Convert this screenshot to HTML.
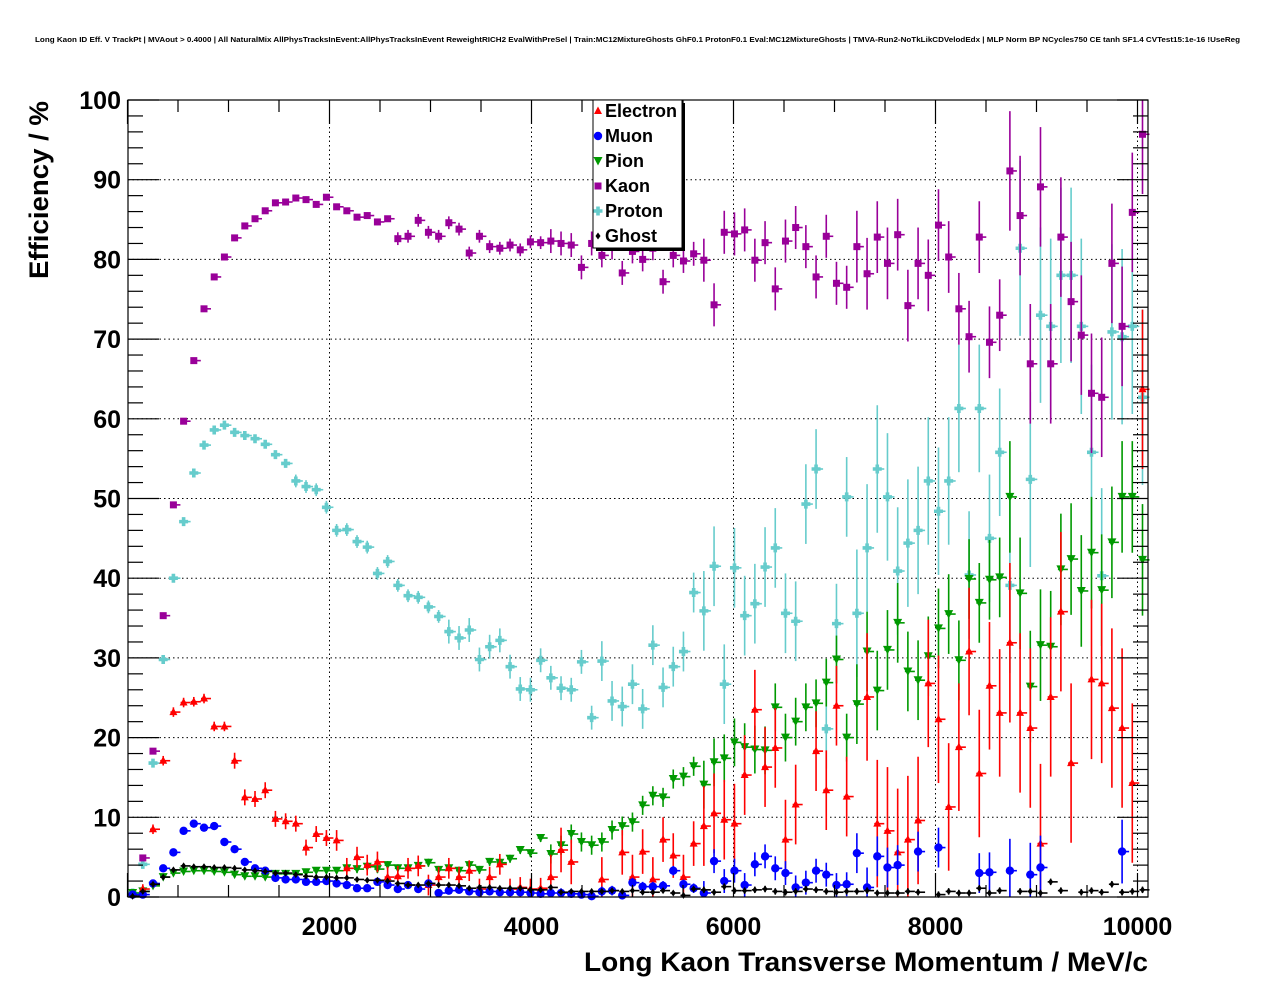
<!DOCTYPE html>
<html><head><meta charset="utf-8"><style>
html,body{margin:0;padding:0;background:#fff;}
svg{display:block;font-family:"Liberation Sans",Arial,sans-serif;}
</style></head><body>
<svg id="chart" width="1276" height="996" viewBox="0 0 1276 996" xmlns="http://www.w3.org/2000/svg">
<rect x="0" y="0" width="1276" height="996" fill="#fff"/>
<text x="35" y="42" font-size="7.5" font-weight="bold" textLength="1205" lengthAdjust="spacingAndGlyphs">Long Kaon ID Eff. V TrackPt | MVAout &gt; 0.4000 | All NaturalMix AllPhysTracksInEvent:AllPhysTracksInEvent ReweightRICH2 EvalWithPreSel | Train:MC12MixtureGhosts GhF0.1 ProtonF0.1 Eval:MC12MixtureGhosts | TMVA-Run2-NoTkLikCDVelodEdx | MLP Norm BP NCycles750 CE tanh SF1.4 CVTest15:1e-16 !UseReg</text>
<g id="grid"></g>
<g id="marks"></g>
<rect x="128" y="100" width="1020" height="797" fill="none" stroke="#000" stroke-width="1.2"/>
<g id="axes"></g>
<text x="1148" y="971" font-size="27" font-weight="bold" text-anchor="end" textLength="564" lengthAdjust="spacingAndGlyphs">Long Kaon Transverse Momentum / MeV/c</text>
<text transform="translate(48,279) rotate(-90)" font-size="27" font-weight="bold" textLength="178" lengthAdjust="spacingAndGlyphs">Efficiency / %</text>
<g id="legend"></g>
</svg>
<script>
const electron = [null,1.0,8.5,17.1,23.2,24.4,24.5,24.9,21.4,21.4,
17.1,12.5,12.3,13.4,9.8,9.5,9.2,6.2,7.9,7.4,
7.1,3.6,5.0,4.0,4.4,2.5,2.6,3.6,3.9,1.5,
2.5,3.6,2.5,3.3,1.0,2.5,4.1,1.0,1.2,1.0,
1.1,2.5,5.9,4.4,null,null,2.2,null,5.6,2.5,
5.7,2.2,7.2,5.2,2.5,6.7,8.9,10.5,9.7,9.2,
15.3,23.5,16.3,18.7,7.2,11.6,null,18.3,13.4,24.0,
12.6,null,25.1,9.2,8.3,5.6,7.2,9.6,26.8,22.3,
11.3,18.8,30.8,15.5,26.5,23.1,31.9,23.1,21.2,6.7,
25.1,35.8,16.8,null,27.3,26.8,23.7,21.2,14.3,63.7];
const muon = [0.3,0.3,1.7,3.6,5.6,8.3,9.2,8.7,8.9,6.9,
6.0,4.4,3.6,3.3,2.4,2.2,2.2,1.9,1.9,2.0,
1.7,1.5,1.1,1.1,1.9,1.5,1.0,1.5,1.0,1.7,
0.5,0.8,0.9,0.7,0.6,0.7,0.6,0.6,0.6,0.5,
0.4,0.5,0.5,0.4,0.3,0.1,0.7,0.8,0.2,1.8,
1.3,1.3,1.4,3.3,1.6,1.1,0.5,4.5,2.0,3.3,
1.5,4.1,5.1,3.6,3.0,1.2,1.8,3.3,2.8,1.5,
1.6,5.5,1.2,5.1,3.7,4.0,null,5.7,null,6.2,
null,null,null,3.0,3.1,null,3.3,null,2.8,3.7,
null,null,null,null,null,null,null,5.7,null,null];
const pion = [0.5,0.7,1.4,2.5,3.0,3.2,3.3,3.3,3.2,3.1,
2.8,2.6,2.6,2.5,2.9,2.9,2.9,3.1,3.3,3.3,
3.3,3.6,3.5,3.8,3.5,4.0,3.6,3.6,3.9,4.3,
3.4,3.6,3.3,4.0,3.4,4.4,4.3,4.8,5.9,5.5,
7.4,5.4,6.5,7.9,6.9,6.5,6.9,8.4,8.9,9.4,
11.5,12.7,12.5,14.8,15.1,16.4,14.1,16.9,17.4,19.4,
18.8,18.5,18.4,23.8,20.0,22.0,23.8,24.3,26.9,29.8,
20.0,24.2,30.8,25.9,31.0,34.4,28.3,27.2,30.2,33.7,
35.5,29.7,39.9,36.9,39.8,40.1,50.2,38.1,26.4,31.6,
31.4,41.1,42.4,38.4,43.2,38.5,44.5,50.2,50.2,42.3];
const kaon = [null,4.9,18.3,35.3,49.2,59.7,67.3,73.8,77.8,80.3,
82.7,84.2,85.1,86.1,87.1,87.2,87.7,87.5,86.9,87.8,
86.6,86.1,85.3,85.5,84.7,85.1,82.6,82.9,84.9,83.4,
82.9,84.6,83.8,80.8,82.9,81.6,81.4,81.8,81.2,82.2,
82.1,82.3,82.0,81.8,79.0,82.0,80.5,81.5,78.3,81.0,
80.0,81.4,77.2,80.5,79.8,80.7,79.9,74.3,83.4,83.2,
83.7,79.9,82.1,76.3,82.3,84.0,81.6,77.8,82.9,77.0,
76.5,81.6,78.2,82.8,79.5,83.1,74.2,79.5,78.0,84.3,
80.3,73.8,70.3,82.8,69.6,73.0,91.1,85.5,66.9,89.1,
66.9,82.8,74.7,70.5,63.2,62.7,79.5,71.6,85.9,95.7];
const proton = [0.5,4.1,16.8,29.8,40.0,47.1,53.2,56.7,58.6,59.2,
58.3,57.9,57.5,56.8,55.5,54.4,52.2,51.5,51.1,48.9,
46.0,46.1,44.6,43.9,40.6,42.1,39.1,37.8,37.6,36.4,
35.2,33.3,32.5,33.5,29.8,31.4,32.2,28.9,26.1,26.0,
29.7,27.5,26.2,26.0,29.5,22.5,29.6,24.6,23.9,26.7,
23.6,31.6,26.3,28.9,30.8,38.2,35.9,41.5,26.7,41.3,
35.3,36.8,41.4,43.8,35.6,34.6,49.3,53.7,21.1,34.3,
50.2,35.6,43.8,53.7,50.2,40.9,44.4,46.0,52.2,48.4,
52.2,61.3,40.4,61.3,45.0,55.8,39.1,81.4,52.4,73.0,
71.6,78.0,78.0,71.6,55.8,40.3,70.9,70.3,71.6,62.7];
const ghost = [0.1,0.7,1.6,2.5,3.4,3.9,3.8,3.8,3.7,3.7,
3.6,3.4,3.3,3.2,3.0,3.0,2.8,2.6,2.5,2.5,
2.4,2.4,2.2,2.1,2.1,2.0,1.7,1.5,1.5,1.7,
1.5,1.5,1.4,1.1,1.2,1.2,1.1,1.1,1.1,0.9,
0.9,1.2,0.6,0.7,0.7,0.7,0.7,0.8,0.7,0.8,
0.6,0.6,0.8,0.5,0.2,1.0,0.9,0.6,1.3,0.8,
0.8,0.9,1.0,0.7,0.6,0.7,1.0,0.9,0.7,0.6,
0.7,0.7,0.8,0.5,0.5,0.5,0.7,0.6,null,0.3,
0.7,0.5,0.5,1.1,0.5,0.8,null,0.7,0.7,0.5,
1.9,0.8,null,0.6,0.8,0.6,1.6,0.6,0.7,0.9];
// approximate error half-widths (%) per range of bins: [startBin, error]
const errElectron = [[0,0.6],[10,1.0],[20,1.3],[41,2.8],[56,5],[71,8],[86,10]];
const errMuon = [[0,0.2],[20,0.3],[41,0.6],[56,1.5],[71,2.5],[86,4]];
const errPion = [[0,0.2],[21,0.5],[41,1.2],[56,3],[71,5],[86,7]];
const errKaon = [[0,0.3],[10,0.4],[26,0.8],[41,1.5],[56,2.7],[71,4.5],[86,7.5]];
const errProton = [[0,0.3],[16,0.8],[31,1.5],[46,2.5],[56,5],[71,8],[86,11]];
const errGhost = [[0,0.2],[56,0.4]];
const binWidth = 101;
const xTicks = [2000,4000,6000,8000,10000];
const yTicks = [0,10,20,30,40,50,60,70,80,90,100];

const NS = "http://www.w3.org/2000/svg";
const X0 = 127.5, PXPERMEV = 0.101, Y0 = 897, PXPERPCT = 7.97;
const xs = v => X0 + v * PXPERMEV;
const ys = v => Y0 - v * PXPERPCT;
function mk(tag, attrs, parent){const e=document.createElementNS(NS,tag);for(const k in attrs)e.setAttribute(k,attrs[k]);parent.appendChild(e);return e;}
function errAt(tab,i){let e=tab[0][1];for(const [s,v] of tab){if(i>=s)e=v;}return e;}

const grid=document.getElementById('grid');
xTicks.forEach(t=>{const l=mk('line',{x1:xs(t),x2:xs(t),y1:100,y2:897,stroke:'#000','stroke-width':1,'stroke-dasharray':'1.5,3'},grid);

});
yTicks.slice(1,-1).forEach(t=>{const l=mk('line',{x1:128,x2:1148,y1:ys(t),y2:ys(t),stroke:'#000','stroke-width':1,'stroke-dasharray':'1.5,3'},grid);

});

const axes=document.getElementById('axes');
for(let v=0; v<=10000; v+=500){const maj=(v%2000===0);const L=maj?24:12;
 const a=mk('line',{x1:xs(v),x2:xs(v),y1:897,y2:897-L,stroke:'#000','stroke-width':1.2},axes);
 
 
 const b=mk('line',{x1:xs(v),x2:xs(v),y1:100,y2:100+L,stroke:'#000','stroke-width':1.2},axes);
 
 }
for(let v=0; v<=100; v+=2){const maj=(v%10===0);const L=maj?31:15;
 const a=mk('line',{x1:128,x2:128+L,y1:ys(v),y2:ys(v),stroke:'#000','stroke-width':1.2},axes);
 
 
 const b=mk('line',{x1:1148,x2:1148-L,y1:ys(v),y2:ys(v),stroke:'#000','stroke-width':1.2},axes);
 
 }
xTicks.forEach(t=>{const tx=mk('text',{x:xs(t),y:935,'font-size':25,'font-weight':'bold','text-anchor':'middle'},axes);tx.textContent=t;
 
 });
yTicks.forEach(t=>{const tx=mk('text',{x:121,y:ys(t)+9,'font-size':25,'font-weight':'bold','text-anchor':'end'},axes);tx.textContent=t;
 
 });

function marker(kind,x,y,col,g){
 if(kind==='tri'){return mk('polygon',{points:`${x},${y-4.5} ${x-4},${y+3} ${x+4},${y+3}`,fill:col},g);}
 if(kind==='circ'){return mk('circle',{cx:x,cy:y,r:4.2,fill:col},g);}
 if(kind==='tridown'){return mk('polygon',{points:`${x-4.5},${y-4} ${x+4.5},${y-4} ${x},${y+4.5}`,fill:col},g);}
 if(kind==='sq'){return mk('rect',{x:x-3.5,y:y-3.5,width:7,height:7,fill:col},g);}
 if(kind==='cross'){return mk('path',{d:`M${x-1.8},${y-4.5}h3.6v2.7h2.7v3.6h-2.7v2.7h-3.6v-2.7h-2.7v-3.6h2.7z`,fill:col},g);}
 if(kind==='diam'){return mk('polygon',{points:`${x},${y-3.5} ${x+2.5},${y} ${x},${y+3.5} ${x-2.5},${y}`,fill:col},g);}
}
const series=[
 {name:'Electron',vals:electron,err:errElectron,col:'#ff0000',m:'tri'},
 {name:'Muon',vals:muon,err:errMuon,col:'#0000ff',m:'circ'},
 {name:'Pion',vals:pion,err:errPion,col:'#009900',m:'tridown'},
 {name:'Kaon',vals:kaon,err:errKaon,col:'#990099',m:'sq'},
 {name:'Proton',vals:proton,err:errProton,col:'#66cccc',m:'cross'},
 {name:'Ghost',vals:ghost,err:errGhost,col:'#000000',m:'diam'}];
const marks=document.getElementById('marks');
const drawOrder=[4,3,2,0,1,5];
drawOrder.forEach(si=>{const s=series[si];
 const g=mk('g',{},marks);
 
 
 s.vals.forEach((v,i)=>{ if(v===null) return;
  const xc=binWidth*i+binWidth/2; const x=xs(xc), y=ys(v);
  const e=errAt(s.err,i);
  const yt=Math.max(100,ys(v+e)), yb=Math.min(897,ys(Math.max(0,v-e)));
  const pg=mk('g',{},g);
  
  
  mk('line',{x1:x-3,x2:x+7,y1:y,y2:y,stroke:s.col,'stroke-width':1.6},pg);
  mk('line',{x1:x,x2:x,y1:yt,y2:yb,stroke:s.col,'stroke-width':1.6},pg);
  marker(s.m,x,y,s.col,pg);
 });
});

const lg=document.getElementById('legend');
const sh=mk('rect',{x:596,y:103,width:89,height:148,fill:'#000'},lg);


const bx=mk('rect',{x:593,y:100,width:89,height:148,fill:'#fff',stroke:'#000','stroke-width':1},lg);


series.forEach((s,k)=>{const y=111+25*k;
 const eg=mk('g',{},lg);
 
 
 marker(s.m,598,y,s.col,eg);
 const t=mk('text',{x:605,y:y+6,'font-size':18,'font-weight':'bold'},eg);t.textContent=s.name;
});
</script>
</body></html>
